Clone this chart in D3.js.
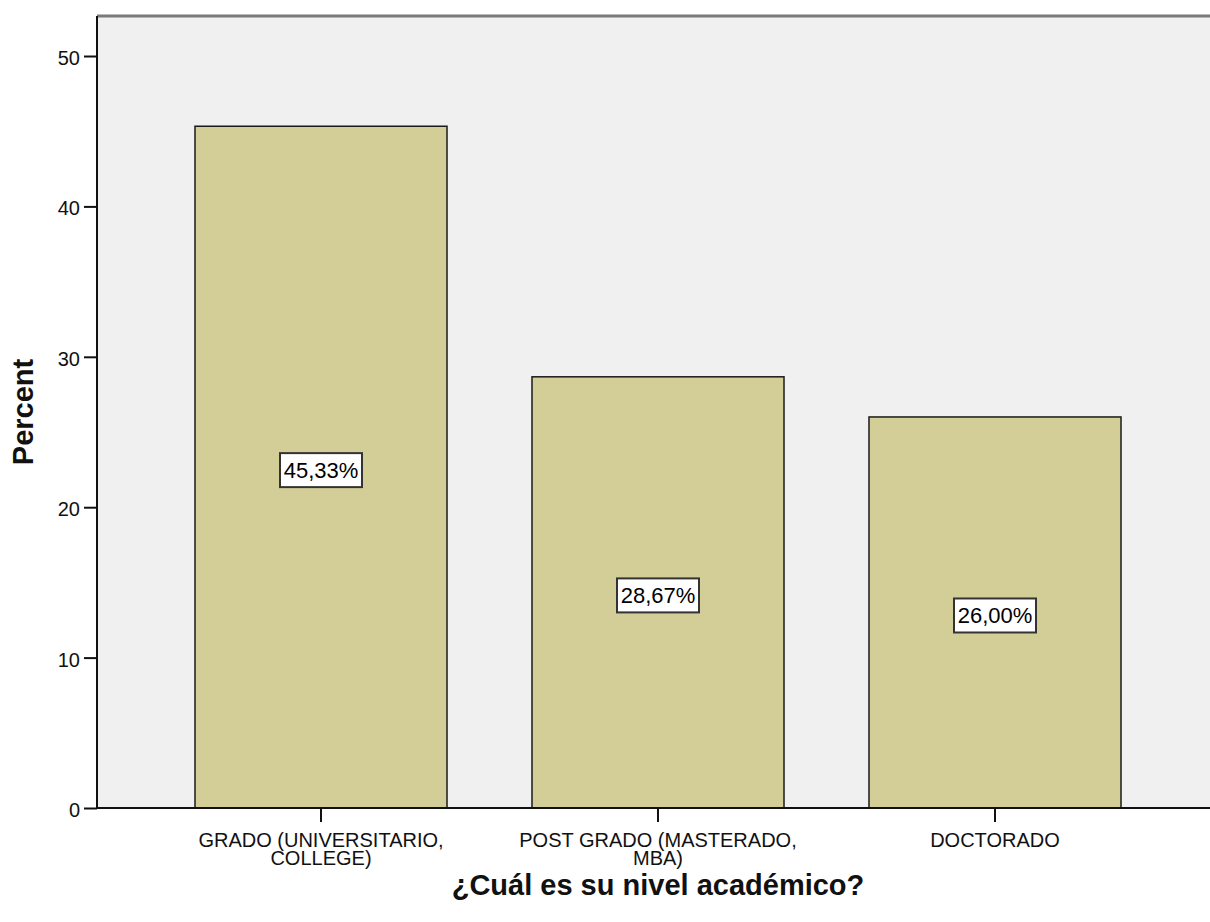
<!DOCTYPE html>
<html>
<head>
<meta charset="utf-8">
<script src="https://cdn.jsdelivr.net/npm/d3@7"></script>
<style>
  html, body { margin: 0; padding: 0; background: #ffffff; }
  svg { display: block; font-family: "Liberation Sans", Arial, sans-serif; }
</style>
</head>
<body>
<svg id="chart" width="1210" height="922"></svg>
<script>
// Academic level distribution (percent of respondents)
const categories = [
  ["GRADO (UNIVERSITARIO,", "COLLEGE)"],
  ["POST GRADO (MASTERADO,", "MBA)"],
  ["DOCTORADO"]
];
const percents = [45.33, 28.67, 26.00];
const yTicks = [0, 10, 20, 30, 40, 50];
const yTitle = "Percent";
const xTitle = "¿Cuál es su nivel académico?";

const svg = d3.select("#chart");

const plot = { left: 97, right: 1220, top: 16, bottom: 808 };

const keys = categories.map(c => c.join(" "));
const x = d3.scaleBand()
  .domain(keys)
  .range([152.5, 1163.5])
  .paddingInner(0.2522)
  .paddingOuter(0.1261);

const y = d3.scaleLinear()
  .domain([0, 52.66])
  .range([plot.bottom, plot.top]);

// plot background
svg.append("rect")
  .attr("x", plot.left).attr("y", plot.top)
  .attr("width", plot.right - plot.left)
  .attr("height", plot.bottom - plot.top)
  .attr("fill", "#f0f0f0");

// top frame line
svg.append("line")
  .attr("x1", plot.left).attr("x2", plot.right)
  .attr("y1", plot.top).attr("y2", plot.top)
  .attr("stroke", "#7a7a7a").attr("stroke-width", 3);

// bars
const bars = svg.append("g");
bars.selectAll("rect")
  .data(percents)
  .join("rect")
  .attr("x", (d, i) => x(keys[i]))
  .attr("y", d => y(d))
  .attr("width", x.bandwidth())
  .attr("height", d => y(0) - y(d))
  .attr("fill", "#d3ce97")
  .attr("stroke", "#1a1a1a")
  .attr("stroke-width", 1.5);

// value labels in boxes
const fmt = v => v.toFixed(2).replace(".", ",") + "%";
const labels = svg.append("g");
percents.forEach((v, i) => {
  const cx = x(keys[i]) + x.bandwidth() / 2;
  const cy = (y(v) + y(0)) / 2 + 3;
  const g = labels.append("g").attr("transform", `translate(${cx},${cy})`);
  g.append("rect")
    .attr("x", -41).attr("y", -17)
    .attr("width", 82).attr("height", 34)
    .attr("fill", "#ffffff")
    .attr("stroke", "#333333")
    .attr("stroke-width", 2);
  g.append("text")
    .attr("text-anchor", "middle")
    .attr("dy", "0.36em")
    .attr("font-size", 22)
    .attr("fill", "#000")
    .text(fmt(v));
});

// y axis
const yAxis = d3.axisLeft(y)
  .tickValues(yTicks)
  .tickSize(13)
  .tickPadding(4)
  .tickFormat(d3.format("d"));
const gy = svg.append("g")
  .attr("transform", `translate(${plot.left},0)`)
  .call(yAxis);
gy.select(".domain").remove();
gy.selectAll(".tick line").attr("stroke", "#111").attr("stroke-width", 2);
gy.selectAll(".tick text")
  .attr("font-size", 20)
  .attr("fill", "#111")
  .attr("dy", "0.42em")
  .attr("font-family", "Liberation Sans, Arial, sans-serif");
svg.append("line")
  .attr("x1", plot.left).attr("x2", plot.left)
  .attr("y1", plot.top).attr("y2", plot.bottom)
  .attr("stroke", "#111").attr("stroke-width", 2);

// x axis
const xAxis = d3.axisBottom(x).tickSize(14).tickFormat("");
const gx = svg.append("g")
  .attr("transform", `translate(0,${plot.bottom})`)
  .call(xAxis);
gx.select(".domain").remove();
gx.selectAll(".tick line").attr("stroke", "#111").attr("stroke-width", 2);
svg.append("line")
  .attr("x1", plot.left).attr("x2", plot.right)
  .attr("y1", plot.bottom).attr("y2", plot.bottom)
  .attr("stroke", "#111").attr("stroke-width", 2);

// category labels (multi-line)
categories.forEach((lines, i) => {
  const cx = x(keys[i]) + x.bandwidth() / 2;
  const t = svg.append("text")
    .attr("text-anchor", "middle")
    .attr("font-size", 20)
    .attr("fill", "#111");
  lines.forEach((ln, j) => {
    t.append("tspan")
      .attr("x", cx)
      .attr("y", 847 + j * 18)
      .text(ln);
  });
});

// axis titles
svg.append("text")
  .attr("x", 658).attr("y", 895)
  .attr("text-anchor", "middle")
  .attr("font-size", 29)
  .attr("font-weight", "bold")
  .attr("fill", "#111")
  .text(xTitle);

svg.append("text")
  .attr("transform", `translate(33,412) rotate(-90)`)
  .attr("text-anchor", "middle")
  .attr("font-size", 29)
  .attr("font-weight", "bold")
  .attr("fill", "#111")
  .text(yTitle);
</script>
</body>
</html>
